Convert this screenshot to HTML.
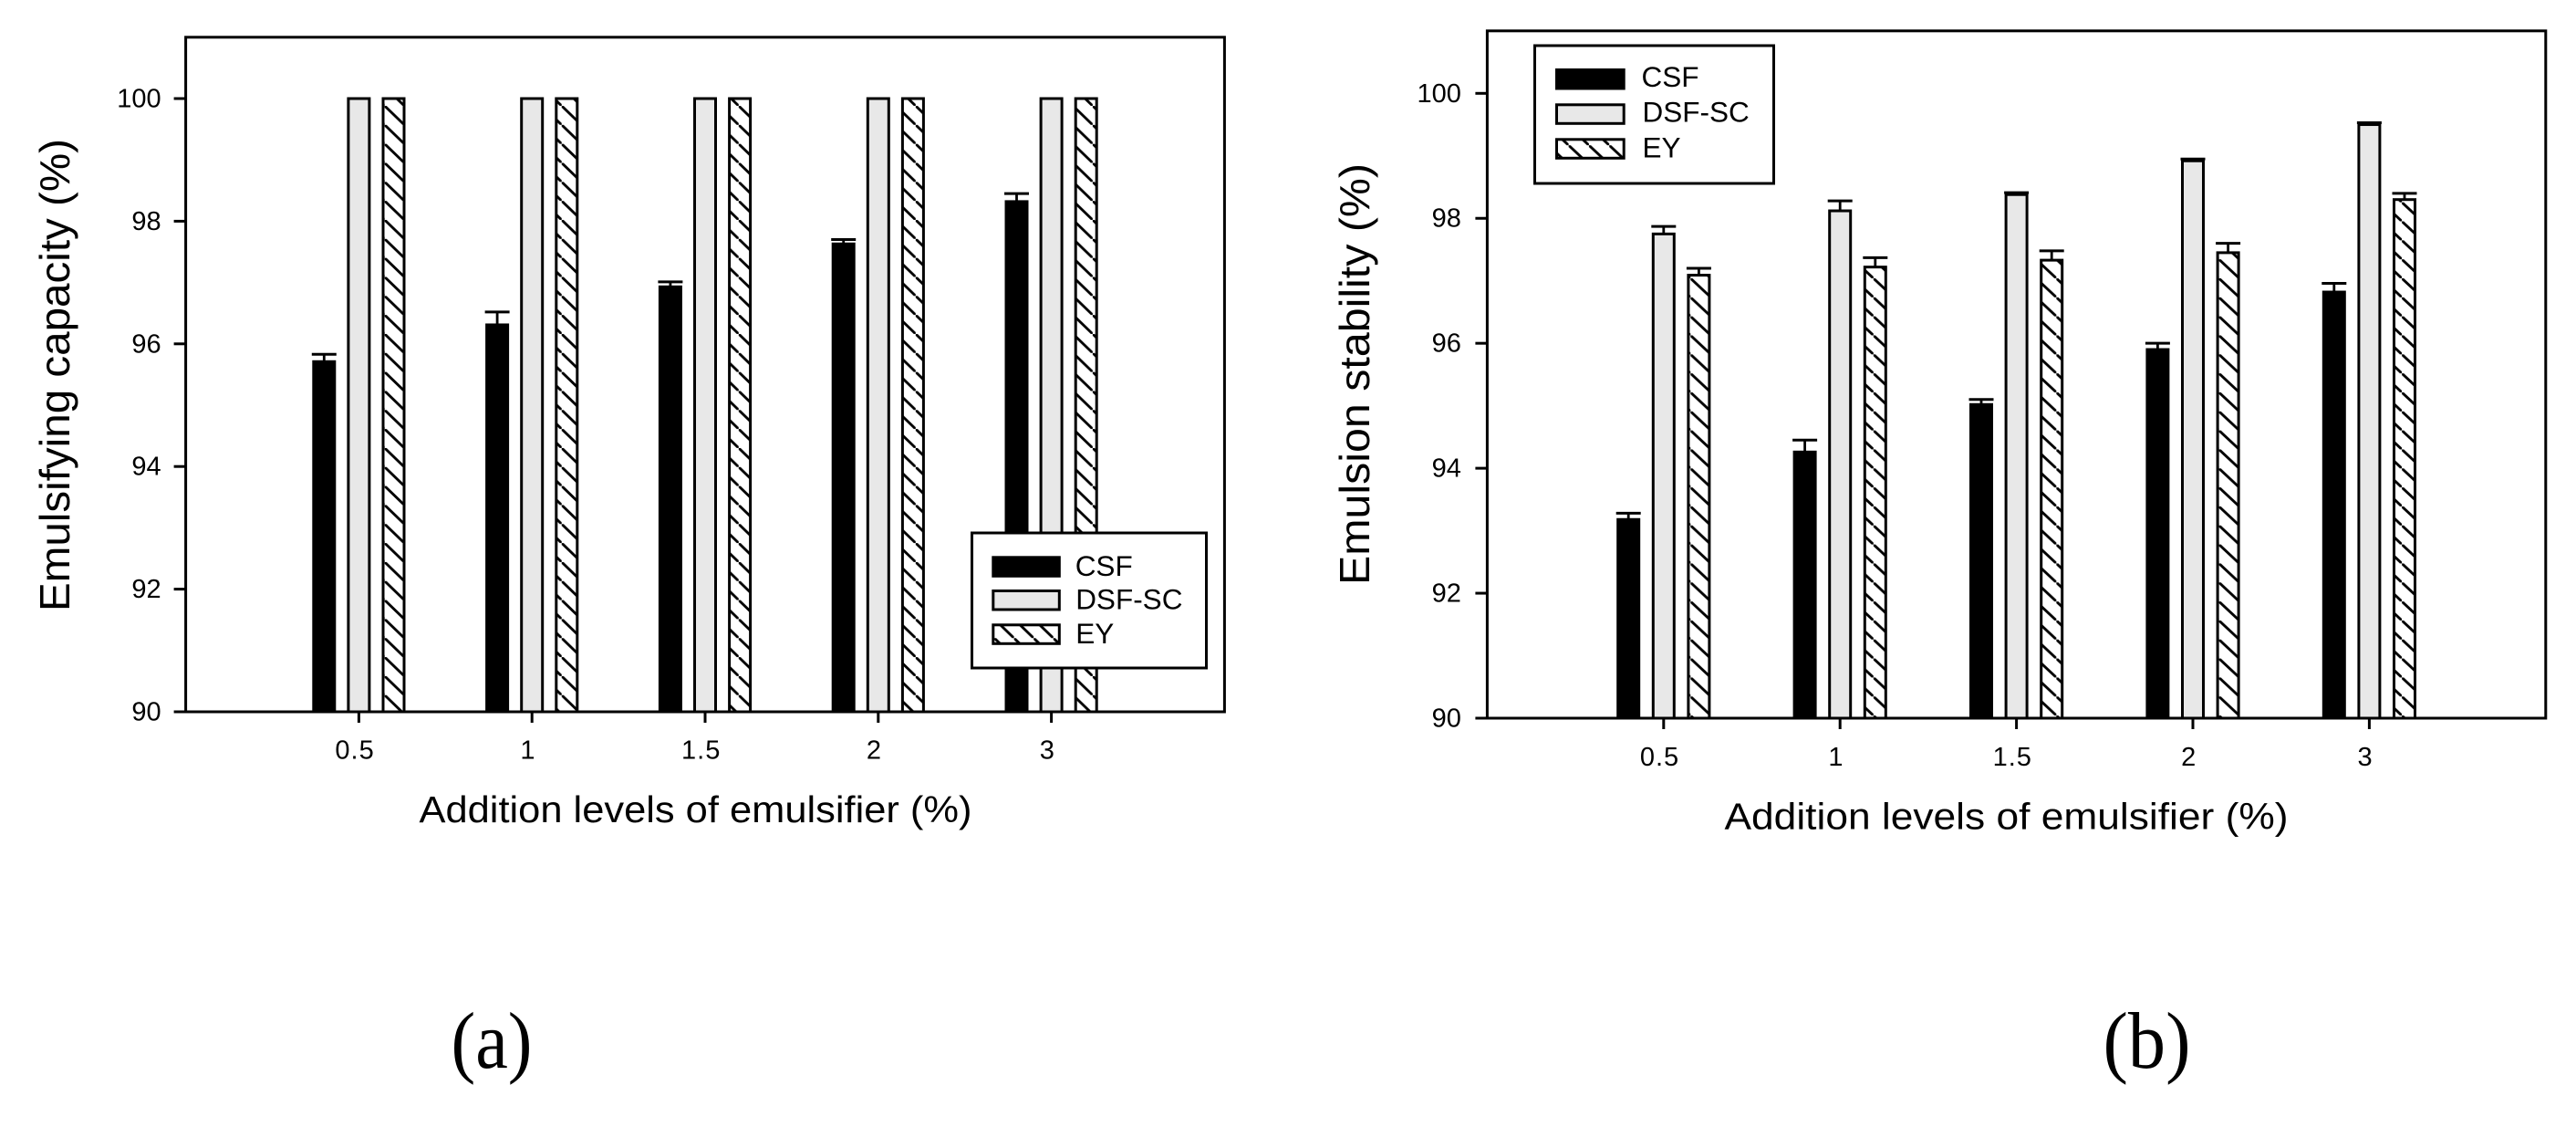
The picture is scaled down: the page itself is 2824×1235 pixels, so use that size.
<!DOCTYPE html>
<html lang="en">
<head>
<meta charset="utf-8">
<title>Emulsifying capacity and emulsion stability</title>
<style>
html,body{margin:0;padding:0;background:#fff;}
svg{display:block;}
text{font-family:"Liberation Sans",Arial,sans-serif;fill:#000;}
.caption{font-family:"Liberation Serif","Times New Roman",serif;font-size:88px;}
.title{font-size:41px;}
.ytitle{font-size:46px;}
.tick{font-size:29px;}
.x-tick{letter-spacing:1px;}
.legend-text{font-size:31.5px;}
</style>
</head>
<body>
<svg id="figure" xmlns="http://www.w3.org/2000/svg" width="2824" height="1235" viewBox="0 0 2824 1235">
  <rect x="0" y="0" width="2824" height="1235" fill="#fff"/>
  <defs>
    <pattern id="hatch-a" patternUnits="userSpaceOnUse" x="0" y="0" width="21.56" height="20.83" patternTransform="translate(421.7 116)">
      <rect x="0" y="0" width="21.56" height="20.83" fill="#fff"/>
      <line x1="-21.56" y1="-20.83" x2="43.12" y2="41.66" stroke="#000" stroke-width="2.9"/>
    </pattern>
    <pattern id="hatch-b" patternUnits="userSpaceOnUse" x="0" y="0" width="22.28" height="20.83" patternTransform="translate(1853.3 305)">
      <rect x="0" y="0" width="22.28" height="20.83" fill="#fff"/>
      <line x1="-22.28" y1="-20.83" x2="44.56" y2="41.66" stroke="#000" stroke-width="2.9"/>
    </pattern>
  </defs>
  <g id="panel-a"></g>
  <g id="panel-b"></g>
  <text class="caption" x="494.5" y="1170" textLength="89" lengthAdjust="spacingAndGlyphs">(a)</text>
  <text class="caption" x="2305.5" y="1170" textLength="96" lengthAdjust="spacingAndGlyphs">(b)</text>
</svg>
<script>
// Shared axes
const categories = ['0.5', '1', '1.5', '2', '3'];
const yTickValues = [90, 92, 94, 96, 98, 100];
const seriesNames = ['CSF', 'DSF-SC', 'EY'];

// Panel (a) Emulsifying capacity
const capacityCsf = [95.71, 96.31, 96.93, 97.63, 98.32];
const capacityDsf = [100, 100, 100, 100, 100];
const capacityEy = [100, 100, 100, 100, 100];
const capacityCsfErr = [0.12, 0.21, 0.08, 0.07, 0.13];
const capacityDsfErr = [0, 0, 0, 0, 0];
const capacityEyErr = [0, 0, 0, 0, 0];

// Panel (b) Emulsion stability
const stabilityCsf = [93.18, 94.26, 95.02, 95.9, 96.82];
const stabilityDsf = [97.75, 98.12, 98.38, 98.92, 99.5];
const stabilityEy = [97.09, 97.22, 97.33, 97.45, 98.3];
const stabilityCsfErr = [0.1, 0.19, 0.08, 0.1, 0.14];
const stabilityDsfErr = [0.12, 0.16, 0.03, 0.03, 0.03];
const stabilityEyErr = [0.11, 0.15, 0.15, 0.15, 0.1];

const SVGNS = 'http://www.w3.org/2000/svg';
function make(parent, tag, attrs, content) {
  const el = document.createElementNS(SVGNS, tag);
  for (const key in attrs) el.setAttribute(key, attrs[key]);
  if (content !== undefined) el.textContent = content;
  parent.appendChild(el);
  return el;
}

function drawPanel(root, cfg) {
  const xScale = v => cfg.left + (v + 1) * cfg.step;
  const yScale = v => cfg.bottom - (v - 90) * cfg.unit;
  const right = xScale(categories.length);
  const top = yScale(101);
  const series = [
    {values: cfg.csf, errors: cfg.csfErr, fill: '#000', key: 'csf'},
    {values: cfg.dsf, errors: cfg.dsfErr, fill: '#e8e8e8', key: 'dsf-sc'},
    {values: cfg.ey, errors: cfg.eyErr, fill: 'url(#' + cfg.hatch + ')', key: 'ey'}
  ];

  // Bars and error bars
  series.forEach((s, si) => {
    s.values.forEach((value, ci) => {
      const cx = xScale(ci) + (si - 1) * cfg.barGap;
      if (s.errors[ci] > 0) {
        const capY = yScale(value + s.errors[ci]);
        const stem = make(root, 'line', {x1: cx, x2: cx, y1: capY, y2: yScale(value), stroke: '#000', 'stroke-width': 2.8});
        
        
        const cap = make(root, 'line', {x1: cx - 13.5, x2: cx + 13.5, y1: capY, y2: capY, stroke: '#000', 'stroke-width': 3});
        
        
      }
      const bar = make(root, 'rect', {
        x: cx - 11.5, width: 23,
        y: yScale(value), height: yScale(90) - yScale(value),
        fill: s.fill, stroke: '#000', 'stroke-width': 3
      });
      
      
    });
  });

  // Frame
  const frame = make(root, 'rect', {x: cfg.left, y: top, width: right - cfg.left, height: cfg.bottom - top, fill: 'none', stroke: '#000', 'stroke-width': 3});
  
  

  // Y axis ticks
  yTickValues.forEach(v => {
    const y = yScale(v);
    const tick = make(root, 'line', {x1: cfg.left - 13, x2: cfg.left, y1: y, y2: y, stroke: '#000', 'stroke-width': 3});
    
    
    const label = make(root, 'text', {class: 'tick', x: cfg.left - cfg.yLabelGap, y: y + 9.5, 'text-anchor': 'end'}, String(v));
    
    
  });

  // X axis ticks
  categories.forEach((c, i) => {
    const x = xScale(i);
    const tick = make(root, 'line', {x1: x, x2: x, y1: cfg.bottom, y2: cfg.bottom + 12, stroke: '#000', 'stroke-width': 3});
    
    
    const label = make(root, 'text', {class: 'tick x-tick', x: x - 4.3, y: cfg.xLabelBase, 'text-anchor': 'middle'}, c);
    
    
  });

  // Axis titles
  const xTitle = make(root, 'text', {class: 'title', x: cfg.xTitleX, y: cfg.xTitleY, textLength: cfg.xTitleLen, lengthAdjust: 'spacingAndGlyphs'}, 'Addition levels of emulsifier (%)');
  
  
  const yTitle = make(root, 'text', {
    class: 'ytitle', x: 0, y: 0, textLength: cfg.yTitleLen, lengthAdjust: 'spacingAndGlyphs',
    transform: 'translate(' + cfg.yTitleX + ' ' + cfg.yTitleY + ') rotate(-90)'
  }, cfg.yTitle);
  
  

  // Legend
  const lg = cfg.legend;
  const legend = make(root, 'g', {});
  
  
  const box = make(legend, 'rect', {x: lg.x, y: lg.y, width: lg.w, height: lg.h, fill: '#fff', stroke: '#000', 'stroke-width': 3});
  
  
  seriesNames.forEach((name, i) => {
    const swatch = make(legend, 'rect', {
      x: lg.swatchX, y: lg.swatchY[i], width: lg.swatchW, height: 20.5,
      fill: series[i].fill, stroke: '#000', 'stroke-width': 3
    });
    
    
    const text = make(legend, 'text', {class: 'legend-text', x: lg.textX[i], y: lg.textY[i]}, name);
    
    
  });
}

drawPanel(document.getElementById('panel-a'), {
  left: 203.6, step: 189.8, bottom: 780, unit: 67.2, barGap: 38.1, hatch: 'hatch-a',
  csf: capacityCsf, dsf: capacityDsf, ey: capacityEy,
  csfErr: capacityCsfErr, dsfErr: capacityDsfErr, eyErr: capacityEyErr,
  yLabelGap: 27, xLabelBase: 831.7,
  xTitleX: 459.5, xTitleY: 901, xTitleLen: 606,
  yTitle: 'Emulsifying capacity (%)', yTitleX: 76, yTitleY: 670, yTitleLen: 518,
  legend: {x: 1065.5, y: 584, w: 257, h: 148, swatchX: 1088.8, swatchW: 72.5,
    swatchY: [610.8, 647.5, 684.8], textX: [1178.7, 1179.2, 1179.2], textY: [631, 667.7, 705]}
});

drawPanel(document.getElementById('panel-b'), {
  left: 1630.4, step: 193.4, bottom: 787, unit: 68.47, barGap: 38.6, hatch: 'hatch-b',
  csf: stabilityCsf, dsf: stabilityDsf, ey: stabilityEy,
  csfErr: stabilityCsfErr, dsfErr: stabilityDsfErr, eyErr: stabilityEyErr,
  yLabelGap: 28.5, xLabelBase: 839,
  xTitleX: 1890.5, xTitleY: 908.5, xTitleLen: 618,
  yTitle: 'Emulsion stability (%)', yTitleX: 1501, yTitleY: 641, yTitleLen: 462,
  legend: {x: 1682.5, y: 50, w: 262, h: 151, swatchX: 1706.5, swatchW: 73.7,
    swatchY: [76.5, 114.8, 152.8], textX: [1799.5, 1800.5, 1800.5], textY: [95, 133.3, 172.3]}
});
</script>
</body>
</html>
